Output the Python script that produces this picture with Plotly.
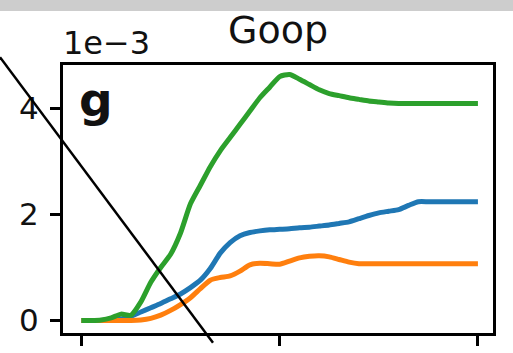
import plotly.graph_objects as go

# Sample positions along the run (shared by every series)
x = [0, 2.5, 5, 7.5, 10, 12.5, 15, 17.5, 20, 22.5, 25, 27.5, 30, 32.5, 35, 37.5,
     40, 42.5, 45, 47.5, 50, 52.5, 55, 57.5, 60, 62.5, 65, 67.5, 70, 72.5, 75,
     77.5, 80, 82.5, 85, 87.5, 90, 92.5, 95, 97.5, 100]

# Series values, in units of 1e-3
blue = [0, 0, 0, 0.01, 0.03, 0.08, 0.16, 0.24, 0.32, 0.41, 0.50, 0.62, 0.76,
        0.98, 1.27, 1.47, 1.60, 1.66, 1.69, 1.71, 1.72, 1.73, 1.75, 1.76, 1.78,
        1.80, 1.83, 1.86, 1.92, 1.98, 2.03, 2.06, 2.09, 2.17, 2.24, 2.24, 2.24,
        2.24, 2.24, 2.24, 2.24]
orange = [0, 0, 0, 0, 0, 0, 0.01, 0.04, 0.10, 0.19, 0.30, 0.43, 0.60, 0.76,
          0.81, 0.84, 0.93, 1.05, 1.08, 1.07, 1.06, 1.12, 1.18, 1.21, 1.22,
          1.20, 1.15, 1.10, 1.07, 1.07, 1.07, 1.07, 1.07, 1.07, 1.07, 1.07,
          1.07, 1.07, 1.07, 1.07, 1.07]
green = [0, 0, 0.01, 0.05, 0.12, 0.10, 0.35, 0.72, 1.00, 1.25, 1.65, 2.20,
         2.55, 2.90, 3.20, 3.45, 3.70, 3.95, 4.20, 4.40, 4.60, 4.64, 4.55,
         4.45, 4.35, 4.28, 4.24, 4.20, 4.17, 4.14, 4.12, 4.10, 4.09, 4.09,
         4.09, 4.09, 4.09, 4.09, 4.09, 4.09, 4.09]

SCALE = 1e-3
x_ticks = [0, 50, 100]
y_ticks = [0, 2, 4]
y_tick_labels = ["0", "2", "4"]

series = [("blue", blue, "#1f77b4"), ("orange", orange, "#ff7f0e"),
          ("green", green, "#2ca02c")]

fig = go.Figure()
for name, vals, color in series:
    fig.add_trace(go.Scatter(
        x=x, y=[v * SCALE for v in vals], mode="lines", name=name,
        line=dict(color=color, width=5, shape="spline", smoothing=0.6),
        showlegend=False, hoverinfo="skip"))

FONT = "DejaVu Sans"

fig.update_layout(
    width=513, height=353,
    margin=dict(l=63, r=20, t=65, b=10),
    paper_bgcolor="white", plot_bgcolor="white",
    font=dict(family=FONT, color="#111111"),
    xaxis=dict(range=[-4.64, 103.8], tickvals=x_ticks, showticklabels=False,
               ticks="outside", ticklen=10, tickwidth=3, tickcolor="black",
               showline=True, linecolor="black", linewidth=3, mirror=True,
               showgrid=False, zeroline=False),
    yaxis=dict(range=[-0.236 * SCALE, 4.818 * SCALE],
               tickvals=[v * SCALE for v in y_ticks], ticktext=y_tick_labels,
               ticks="outside", ticklen=10, tickwidth=3, tickcolor="black",
               ticklabelstandoff=5,
               tickfont=dict(family=FONT, size=31, color="#111111"),
               showline=True, linecolor="black", linewidth=3, mirror=True,
               showgrid=False, zeroline=False),
)

# Grey band across the top edge of the page
fig.add_shape(type="rect", xref="paper", yref="paper",
              x0=-0.2, x1=1.1, y0=1.2014, y1=1.25,
              fillcolor="#cdcdcd", line=dict(width=0), layer="above")

# Diagonal stroke running across the panel
fig.add_shape(type="line", xref="paper", yref="paper",
              x0=-0.1465, y0=1.0288, x1=0.3488, y1=-0.036,
              line=dict(color="black", width=2.5), layer="above")

fig.add_annotation(text="Goop", xref="paper", yref="paper", x=0.5, y=1.13,
                   xanchor="center", yanchor="middle", showarrow=False,
                   font=dict(family=FONT, size=38, color="#111111"))
fig.add_annotation(text="1e\u22123", xref="paper", yref="paper", x=-0.004,
                   y=1.083, xanchor="left", yanchor="middle", showarrow=False,
                   font=dict(family=FONT, size=32, color="#111111"))
fig.add_annotation(text="<b>g</b>", xref="paper", yref="paper", x=0.033,
                   y=0.872, xanchor="left", yanchor="middle", showarrow=False,
                   font=dict(family=FONT, size=47, color="#111111"))

fig.write_html("out.html")
